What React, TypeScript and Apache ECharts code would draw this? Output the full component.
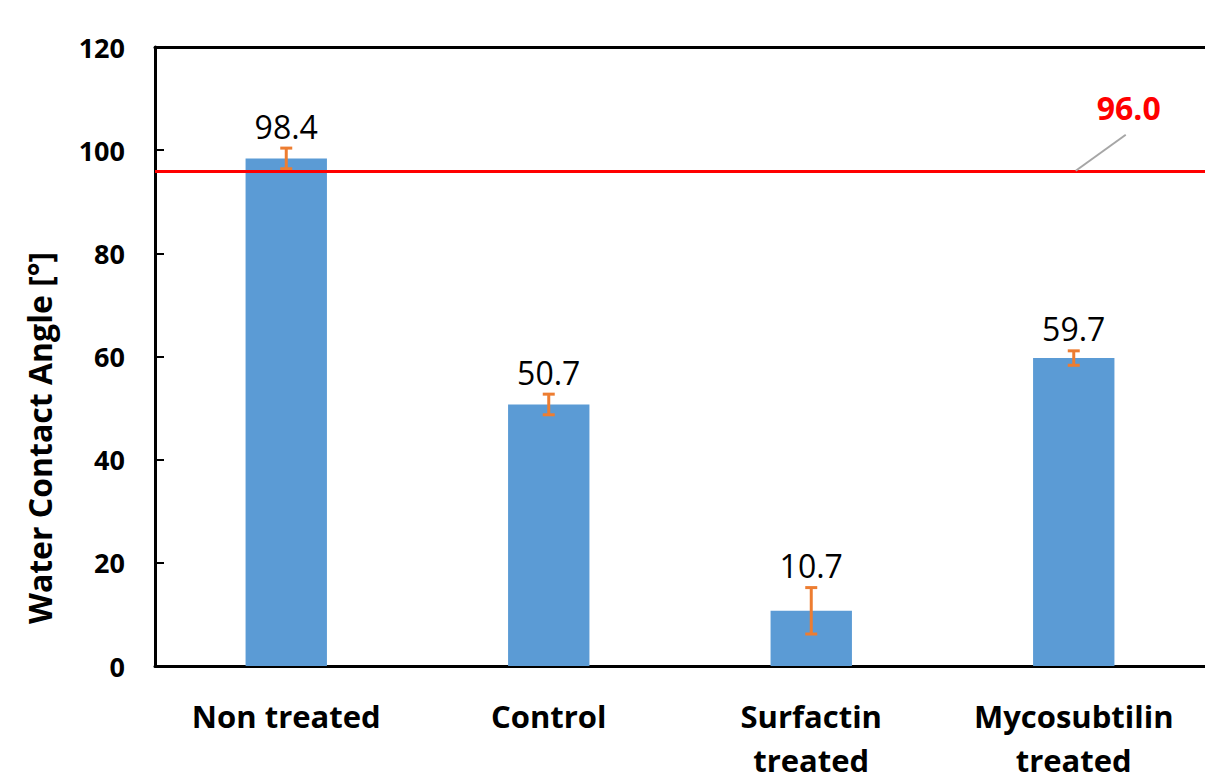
import React, { useEffect, useRef } from "react";
import * as echarts from "echarts";

const categories = ["Non treated", "Control", "Surfactin\ntreated", "Mycosubtilin\ntreated"];
const values = [98.4, 50.7, 10.7, 59.7];
const errors = [2.0, 2.0, 4.5, 1.4];
const threshold = 96.0;
const thresholdAnchorCategory = 3;
const yTicks = { min: 0, max: 120, interval: 20 };
const yTitle = "Water Contact Angle [°]";

const FONT = "Open Sans";

export default function App() {
  const ref = useRef<HTMLDivElement>(null);
  useEffect(() => {
    if (!ref.current) return;
    const chart = echarts.init(ref.current, null, { renderer: "svg" });
    const errData = values.map((v, i) => [i, v - errors[i], v + errors[i], v]);
    chart.setOption({
      animation: false,
      backgroundColor: "#ffffff",
      grid: {
        left: 155,
        top: 47,
        bottom: 106,
        right: 0,
        show: false,
        containLabel: false,
        outerBoundsMode: "none",
      },
      graphic: [
        {
          type: "text",
          x: 39,
          y: 438,
          rotation: Math.PI / 2,
          style: {
            text: yTitle,
            fill: "#000",
            font: `bold 32px ${FONT}`,
            align: "center",
            verticalAlign: "middle",
          },
        },
      ],
      xAxis: [
        {
          type: "category",
          data: categories,
          axisLine: { show: true, lineStyle: { color: "#000", width: 3 } },
          axisTick: { show: false },
          axisLabel: {
            color: "#000",
            fontFamily: FONT,
            fontWeight: "bold",
            fontSize: 31,
            lineHeight: 44,
            margin: 28,
            interval: 0,
          },
          splitLine: { show: false },
        },
        {
          type: "category",
          position: "top",
          data: categories,
          axisLine: { show: true, lineStyle: { color: "#000", width: 3 } },
          axisTick: { show: false },
          axisLabel: { show: false },
          splitLine: { show: false },
        },
      ],
      yAxis: {
        type: "value",
        min: yTicks.min,
        max: yTicks.max,
        interval: yTicks.interval,
        axisLine: { show: true, lineStyle: { color: "#000", width: 3 } },
        axisTick: { show: true, inside: true, length: 9, lineStyle: { color: "#000", width: 2 } },
        axisLabel: {
          color: "#000",
          fontFamily: FONT,
          fontWeight: "bold",
          fontSize: 27,
          margin: 30,
        },
        splitLine: { show: false },
      },
      series: [
        {
          type: "bar",
          data: values,
          barWidth: "31%",
          itemStyle: { color: "#5B9BD5" },
          z: 2,
          markLine: {
            silent: true,
            symbol: "none",
            label: { show: false },
            lineStyle: { color: "#FF0000", width: 3, type: "solid" },
            data: [{ yAxis: threshold }],
            z: 5,
          },
        },
        {
          type: "custom",
          data: errData,
          z: 3,
          renderItem: (params: any, api: any) => {
            const x = api.value(0);
            const lo = api.coord([x, api.value(1)]);
            const hi = api.coord([x, api.value(2)]);
            const cap = 6;
            const st = { stroke: "#ED7D31", lineWidth: 3 };
            return {
              type: "group",
              children: [
                { type: "line", shape: { x1: hi[0], y1: hi[1], x2: lo[0], y2: lo[1] }, style: st },
                { type: "line", shape: { x1: hi[0] - cap, y1: hi[1], x2: hi[0] + cap, y2: hi[1] }, style: st },
                { type: "line", shape: { x1: lo[0] - cap, y1: lo[1], x2: lo[0] + cap, y2: lo[1] }, style: st },
                {
                  type: "text",
                  x: hi[0],
                  y: hi[1] - 6,
                  style: {
                    text: api.value(3).toFixed(1),
                    fill: "#000",
                    font: `normal 32px ${FONT}`,
                    align: "center",
                    verticalAlign: "bottom",
                  },
                },
              ],
            };
          },
        },
        {
          type: "custom",
          data: [[thresholdAnchorCategory, threshold]],
          z: 6,
          renderItem: (params: any, api: any) => {
            const p = api.coord([api.value(0), api.value(1)]);
            const ex = p[0] + 52;
            const ey = p[1] - 36;
            return {
              type: "group",
              children: [
                { type: "line", shape: { x1: p[0] + 2, y1: p[1], x2: ex, y2: ey }, style: { stroke: "#A6A6A6", lineWidth: 2 } },
                {
                  type: "text",
                  x: ex + 3,
                  y: ey - 27,
                  style: {
                    text: api.value(1).toFixed(1),
                    fill: "#FF0000",
                    font: `bold 32px ${FONT}`,
                    align: "center",
                    verticalAlign: "middle",
                  },
                },
              ],
            };
          },
        },
      ],
    });
    return () => chart.dispose();
  }, []);
  return (
    <div
      ref={ref}
      style={{ position: "fixed", left: 0, top: 0, width: 1205, height: 772, background: "#fff" }}
    />
  );
}
